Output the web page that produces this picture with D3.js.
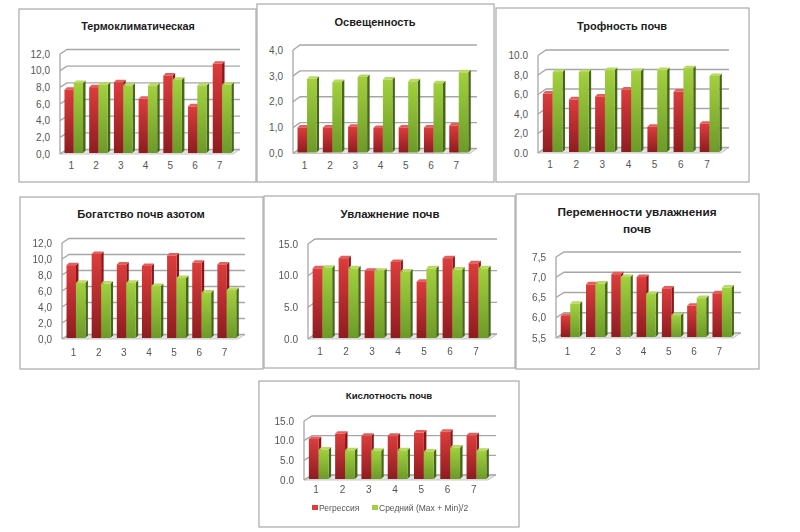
<!DOCTYPE html>
<html lang="ru">
<head>
<meta charset="utf-8">
<script src="https://d3js.org/d3.v7.min.js"></script>
<style>
    html, body { margin: 0; background: #fff; }
    svg { display: block; filter: blur(0.5px); font-family: "Liberation Sans", sans-serif; }
    .panel { fill: #fff; stroke: #a9a9a9; stroke-width: 1.2; }
    .title { font-weight: bold; fill: #1c1c1c; text-anchor: middle; }
    .tick text { font-size: 10px; fill: #555; }
    .grid { stroke: #a6a6a6; stroke-width: 1.3; fill: none; }
    .floor { fill: #e4e4e4; stroke: #bdbdbd; stroke-width: 0.8; }
    .legend { font-size: 8.5px; fill: #555; }
</style>
</head>
<body>
<svg id="chart" width="800" height="532"></svg>
<script>
const categories = ["1", "2", "3", "4", "5", "6", "7"];
const series_names = ["Регрессия", "Средний (Max + Min)/2"];

const termo_red = [7.6, 7.9, 8.5, 6.5, 9.3, 5.6, 10.7];
const termo_green = [8.4, 8.2, 8.1, 8.1, 8.8, 8.1, 8.2];
const termo_ticks = ["0,0", "2,0", "4,0", "6,0", "8,0", "10,0", "12,0"];

const light_red = [0.97, 0.97, 1.0, 0.95, 0.97, 0.97, 1.05];
const light_green = [2.85, 2.72, 2.92, 2.82, 2.75, 2.68, 3.1];
const light_ticks = ["0,0", "1,0", "2,0", "3,0", "4,0"];

const trophic_red = [6.0, 5.4, 5.7, 6.4, 2.6, 6.2, 2.9];
const trophic_green = [8.2, 8.2, 8.4, 8.3, 8.4, 8.6, 7.8];
const trophic_ticks = ["0.0", "2,0", "4,0", "6,0", "8,0", "10.0"];

const nitrogen_red = [9.1, 10.5, 9.2, 9.0, 10.3, 9.4, 9.2];
const nitrogen_green = [6.9, 6.8, 6.9, 6.5, 7.5, 5.7, 6.0];
const nitrogen_ticks = ["0,0", "2,0", "4,0", "6,0", "8,0", "10,0", "12,0"];

const moisture_red = [11.0, 12.6, 10.6, 12.0, 8.9, 12.6, 11.8];
const moisture_green = [11.1, 11.0, 10.6, 10.5, 11.0, 10.8, 11.0];
const moisture_ticks = ["0.0", "5.0", "10.0", "15.0"];

const variability_red = [6.02, 6.8, 7.05, 6.98, 6.7, 6.27, 6.58];
const variability_green = [6.32, 6.82, 6.98, 6.56, 6.04, 6.46, 6.72];
const variability_ticks = ["5,5", "6,0", "6,5", "7,0", "7,5"];

const acidity_red = [10.2, 11.5, 11.0, 11.0, 11.8, 12.0, 11.1];
const acidity_green = [7.5, 7.3, 7.2, 7.3, 7.0, 8.0, 7.2];
const acidity_ticks = ["0.0", "5.0", "10.0", "15.0"];

// box = panel frame, plot = front plane of the chart
const panels = [
    { title: ["Термоклиматическая"], title_x: 138, title_y: 30, title_size: 10.8, red: termo_red, green: termo_green, ticks: termo_ticks, min: 0, step: 2,
      box: [19, 9, 237, 173], plot: [60, 233, 154, 54], depth: [7, -4.5], label_y: 171 },
    { title: ["Освещенность"], title_x: 375, title_y: 26, title_size: 11, red: light_red, green: light_green, ticks: light_ticks, min: 0, step: 1,
      box: [257, 4, 237, 178], plot: [293, 470, 153.5, 50], depth: [7, -5], label_y: 171 },
    { title: ["Трофность почв"], title_x: 622, title_y: 30, title_size: 11, red: trophic_red, green: trophic_green, ticks: trophic_ticks, min: 0, step: 2,
      box: [496, 8, 253, 174], plot: [538, 721, 153, 55.5], depth: [8, -5.5], label_y: 170 },
    { title: ["Богатство почв азотом"], title_x: 141, title_y: 218, title_size: 11.2, red: nitrogen_red, green: nitrogen_green, ticks: nitrogen_ticks, min: 0, step: 2,
      box: [20, 197, 243, 172], plot: [62, 238, 339, 243], depth: [7, -4.5], label_y: 358 },
    { title: ["Увлажнение почв"], title_x: 390, title_y: 218, title_size: 11.4, red: moisture_red, green: moisture_green, ticks: moisture_ticks, min: 0, step: 5,
      box: [264, 196, 251, 172], plot: [308, 490, 339, 244], depth: [7, -5], label_y: 357 },
    { title: ["Переменности увлажнения", "почв"], title_x: 637, title_y: 216, title_size: 11.8, red: variability_red, green: variability_green, ticks: variability_ticks, min: 5.5, step: 0.5,
      box: [516, 194, 243, 175], plot: [556, 733, 338, 257], depth: [8, -5], label_y: 357 },
    { title: ["Кислотность почв"], title_x: 389, title_y: 399, title_size: 9.6, red: acidity_red, green: acidity_green, ticks: acidity_ticks, min: 0, step: 5,
      box: [259, 381, 260, 146], plot: [304, 488, 480, 421], depth: [8, -5], label_y: 495, legend: true }
];

const colors = [
    { id: "red", top: "#dc3c3c", bottom: "#8e1c20", side: "#8a1618", cap: "#e2605c" },
    { id: "green", top: "#a2d03e", bottom: "#6c9a28", side: "#48661a", cap: "#b8da62" }
];

let svg = d3.select("#chart");

let defs = svg.append("defs");
colors.forEach(color => {
    let gradient = defs.append("linearGradient")
        .attr("id", "fill_" + color.id)
        .attr("x1", 0).attr("y1", 0).attr("x2", 0).attr("y2", 1);
    gradient.append("stop").attr("offset", "0%").attr("stop-color", color.top);
    gradient.append("stop").attr("offset", "100%").attr("stop-color", color.bottom);
});

function draw_panel(panel) {
    let [left, right, base, top] = panel.plot;
    let [dx, dy] = panel.depth;
    let group = svg.append("g");

    group.append("rect")
        .classed("panel", true)
        .attr("x", panel.box[0])
        .attr("y", panel.box[1])
        .attr("width", panel.box[2])
        .attr("height", panel.box[3]);

    group.append("text")
        .classed("title", true)
        .attr("font-size", panel.title_size)
        .selectAll("tspan")
        .data(panel.title)
        .join("tspan")
        .attr("x", panel.title_x)
        .attr("y", (_, i) => panel.title_y + i * 17)
        .text(d => d);

    let max = panel.min + panel.step * (panel.ticks.length - 1);
    let y = d3.scaleLinear().domain([panel.min, max]).range([base, top]);
    let x = d3.scaleBand().domain(categories).range([left, right]);
    let x_series = d3.scaleBand().domain(colors.map(c => c.id))
        .range([0, x.bandwidth()])
        .paddingOuter(0.33);
    let tick_values = panel.ticks.map((_, i) => panel.min + panel.step * i);

    // walls and floor
    group.append("path")
        .classed("floor", true)
        .attr("d", `M${left},${base}L${right},${base}L${right + dx},${base + dy}L${left + dx},${base + dy}Z`);

    group.append("g")
        .selectAll("path")
        .data(tick_values)
        .join("path")
        .classed("grid", true)
        .attr("d", d => `M${left},${y(d)}L${left + dx},${y(d) + dy}L${right + dx},${y(d) + dy}`);

    group.append("line")
        .classed("grid", true)
        .attr("x1", left).attr("x2", left)
        .attr("y1", base).attr("y2", top);

    // bars
    let bar_lift = 1;
    let bar_shift = dx / 5;
    let bar_dx = 2.5;
    let bar_dy = -2.5;
    let width = x_series.bandwidth();

    colors.forEach(color => {
        let values = panel[color.id];
        let bars = group.append("g")
            .selectAll("g")
            .data(values)
            .join("g")
            .attr("transform", (_, i) => `translate(${x(categories[i]) + x_series(color.id) + bar_shift} 0)`);

        bars.append("path")
            .attr("fill", color.side)
            .attr("d", d => `M${width},${y(d) - bar_lift}l${bar_dx},${bar_dy}V${base - bar_lift + bar_dy}l${-bar_dx},${-bar_dy}Z`);

        bars.append("path")
            .attr("fill", color.cap)
            .attr("d", d => `M0,${y(d) - bar_lift}l${bar_dx},${bar_dy}h${width}l${-bar_dx},${-bar_dy}Z`);

        bars.append("rect")
            .attr("fill", `url(#fill_${color.id})`)
            .attr("x", 0)
            .attr("y", d => y(d) - bar_lift)
            .attr("width", width)
            .attr("height", d => base - y(d));
    });

    // axes
    let y_axis = d3.axisLeft(y)
        .tickValues(tick_values)
        .tickFormat((_, i) => panel.ticks[i])
        .tickSize(0)
        .tickPadding(10);

    group.append("g")
        .attr("transform", `translate(${left} 0)`)
        .call(y_axis)
        .call(g => g.select(".domain").remove());

    let x_axis = d3.axisBottom(x)
        .tickSize(0)
        .tickPadding(0);

    group.append("g")
        .attr("transform", `translate(-1 ${panel.label_y - 9})`)
        .call(x_axis)
        .call(g => g.select(".domain").remove());

    if (panel.legend) {
        draw_legend(group);
    }
}

function draw_legend(group) {
    let legend_x = d3.scaleOrdinal().domain(series_names).range([312, 372]);
    let items = group.append("g")
        .selectAll("g")
        .data(series_names)
        .join("g")
        .attr("transform", d => `translate(${legend_x(d)} 508)`);

    items.append("rect")
        .attr("y", -3)
        .attr("width", 6)
        .attr("height", 5)
        .attr("fill", (_, i) => colors[i].top);

    items.append("text")
        .classed("legend", true)
        .attr("x", 7)
        .attr("y", 3)
        .text(d => d);
}

panels.forEach(draw_panel);
</script>
</body>
</html>
